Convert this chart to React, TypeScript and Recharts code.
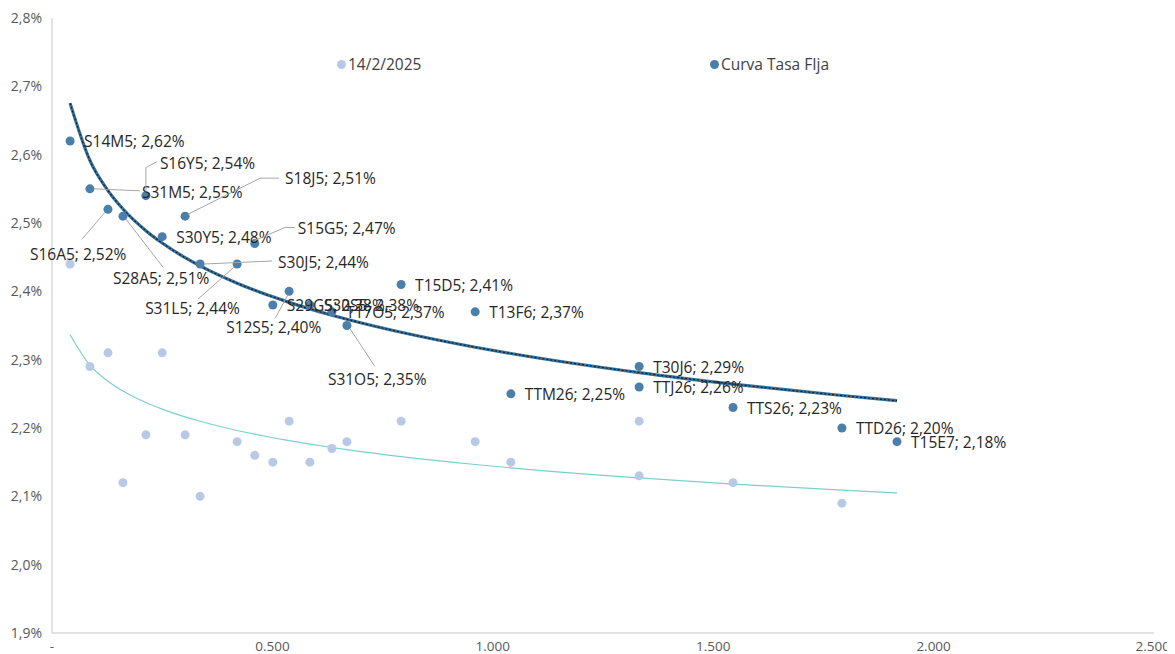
import React, { useLayoutEffect } from "react";
import { ComposedChart, Scatter, Line, XAxis, YAxis } from "recharts";

// ---- data ----
const BOND_NAMES = [
  "S14M5", "S31M5", "S16A5", "S28A5", "S16Y5", "S30Y5", "S18J5", "S30J5",
  "S31L5", "S15G5", "S29G5", "S12S5", "S30S5", "T17O5", "S31O5", "T15D5",
  "T13F6", "TTM26", "T30J6", "TTJ26", "TTS26", "TTD26", "T15E7",
];
const MATURITY_FIJA = [
  0.041, 0.086, 0.127, 0.161, 0.213, 0.25, 0.302, 0.336, 0.42, 0.46, 0.501,
  0.538, 0.585, 0.635, 0.669, 0.792, 0.96, 1.041, 1.332, 1.332, 1.545, 1.792,
  1.917,
];
const RATE_FIJA = [
  2.62, 2.55, 2.52, 2.51, 2.54, 2.48, 2.51, 2.44, 2.44, 2.47, 2.38, 2.4, 2.38,
  2.37, 2.35, 2.41, 2.37, 2.25, 2.29, 2.26, 2.23, 2.2, 2.18,
];
const MATURITY_PREV = [
  0.041, 0.086, 0.127, 0.161, 0.213, 0.25, 0.302, 0.336, 0.42, 0.46, 0.501,
  0.538, 0.585, 0.635, 0.669, 0.792, 0.96, 1.041, 1.332, 1.332, 1.545, 1.792,
];
const RATE_PREV = [
  2.44, 2.29, 2.31, 2.12, 2.19, 2.31, 2.19, 2.1, 2.18, 2.16, 2.15, 2.21, 2.15,
  2.17, 2.18, 2.21, 2.18, 2.15, 2.21, 2.13, 2.12, 2.09,
];
const SERIES_NAMES = ["14/2/2025", "Curva Tasa FIja"];
const X_TICKS = [0, 0.5, 1, 1.5, 2, 2.5];
const X_TICK_LABELS = ["-", "0.500", "1.000", "1.500", "2.000", "2.500"];
const Y_TICKS = [1.9, 2.0, 2.1, 2.2, 2.3, 2.4, 2.5, 2.6, 2.7, 2.8];
const Y_TICK_LABELS = ["1,9%", "2,0%", "2,1%", "2,2%", "2,3%", "2,4%", "2,5%", "2,6%", "2,7%", "2,8%"];

// ---- derived tables ----
const fijaData = BOND_NAMES.map((name, i) => ({ name, x: MATURITY_FIJA[i], y: RATE_FIJA[i] }));
const prevData = MATURITY_PREV.map((x, i) => ({ x, y: RATE_PREV[i] }));

function logFit(xs: number[], ys: number[]) {
  const n = xs.length;
  const lx = xs.map((v) => Math.log(v));
  const mx = lx.reduce((a, b) => a + b, 0) / n;
  const my = ys.reduce((a, b) => a + b, 0) / n;
  let sxy = 0;
  let sxx = 0;
  for (let i = 0; i < n; i++) {
    sxy += (lx[i] - mx) * (ys[i] - my);
    sxx += (lx[i] - mx) * (lx[i] - mx);
  }
  const b = sxy / sxx;
  const a = my - b * mx;
  return (x: number) => a + b * Math.log(x);
}
const trendXs = Array.from(new Set(MATURITY_FIJA)).sort((a, b) => a - b);
const fitFija = logFit(MATURITY_FIJA, RATE_FIJA);
const fitPrev = logFit(MATURITY_PREV, RATE_PREV);
const trendFija = trendXs.map((x) => ({ x, y: fitFija(x) }));
const trendPrev = trendXs.map((x) => ({ x, y: fitPrev(x) }));

// ---- styling ----
const FONT = "'Open Sans', 'Noto Sans', sans-serif";
const DARK = "#4b7fab";
const LIGHT = "#b8c9e6";
const LABEL_COLOR = "#262626";
const LEADER = "#a6a6a6";
const TICK_COLOR = "#595959";

type LabelCfg = { dx: number; dy: number; leader?: number[][] };
const DEFAULT_LABEL: LabelCfg = { dx: 14, dy: 0 };
const LABEL_LAYOUT: Record<string, LabelCfg> = {
  S31M5: { dx: 52, dy: 3, leader: [[4, 0], [50, 2]] },
  S16A5: { dx: -78, dy: 45, leader: [[-3, 3], [-26, 30]] },
  S28A5: { dx: -10, dy: 62, leader: [[3, 3], [40, 51]] },
  S16Y5: { dx: 14, dy: -33, leader: [[0, -4], [0, -28], [11, -34]] },
  S18J5: { dx: 100, dy: -38, leader: [[3, -2], [75, -38], [94, -38]] },
  S30J5: { dx: 78, dy: -2, leader: [[4, 0], [72, -3]] },
  S31L5: { dx: -92, dy: 44, leader: [[-3, 3], [-39, 35]] },
  S15G5: { dx: 43, dy: -16, leader: [[0, -3], [30, -16], [40, -16]] },
  S12S5: { dx: -63, dy: 36, leader: [[-1, 3], [-14, 27]] },
  S31O5: { dx: -19, dy: 53, leader: [[3, 3], [28, 41]] },
};

const Dot = (color: string) => (props: any) => {
  const { cx, cy } = props;
  if (cx == null || cy == null) return null;
  return <circle cx={cx} cy={cy} r={4.5} fill={color} />;
};

const LabelShape = (props: any) => {
  const { cx, cy, payload } = props;
  if (cx == null || cy == null || !payload) return null;
  const cfg = LABEL_LAYOUT[payload.name] ?? DEFAULT_LABEL;
  const text = `${payload.name}; ${payload.y.toFixed(2).replace(".", ",")}%`;
  return (
    <g>
      {cfg.leader && (
        <polyline
          points={cfg.leader.map(([a, b]) => `${cx + a},${cy + b}`).join(" ")}
          fill="none"
          stroke={LEADER}
          strokeWidth={1}
        />
      )}
      <text
        x={cx + cfg.dx}
        y={cy + cfg.dy}
        dominantBaseline="central"
        fontFamily={FONT}
        fontSize={15.5}
        fill={LABEL_COLOR}
      >
        {text}
      </text>
    </g>
  );
};

const XTick = (props: any) => {
  const { x, y, payload } = props;
  const i = X_TICKS.indexOf(payload.value);
  const label = i >= 0 ? X_TICK_LABELS[i] : "";
  const isLast = i === X_TICKS.length - 1;
  return (
    <text
      x={isLast ? x + 16 : x}
      y={y + 5}
      dominantBaseline="central"
      textAnchor={isLast ? "end" : "middle"}
      fontFamily={FONT}
      fontSize={13.5}
      fill={TICK_COLOR}
    >
      {label}
    </text>
  );
};

export default function App() {
  const W = 1167;
  const H = 646;
  useLayoutEffect(() => {
    document.documentElement.style.overflow = "hidden";
    document.body.style.overflow = "hidden";
  }, []);
  const legendStyle: React.CSSProperties = {
    position: "absolute",
    top: 45,
    display: "flex",
    alignItems: "center",
    fontSize: 15.5,
    color: "#404040",
    whiteSpace: "nowrap",
  };
  return (
    <div style={{ position: "relative", width: W, height: H, fontFamily: FONT }}>
      <style>{`.recharts-wrapper, .recharts-surface { overflow: visible !important; }`}</style>
      <ComposedChart
        width={W}
        height={H}
        margin={{ top: 10, right: 21, left: 0, bottom: 0 }}
      >
        <XAxis
          type="number"
          dataKey="x"
          domain={[0, 2.5]}
          ticks={X_TICKS}
          height={21}
          tickLine={false}
          axisLine={{ stroke: "#d9d9d9", strokeWidth: 1.5 }}
          tick={<XTick />}
          interval={0}
        />
        <YAxis
          type="number"
          dataKey="y"
          domain={[1.9, 2.8]}
          ticks={Y_TICKS}
          tickFormatter={(v: number) => {
            const i = Y_TICKS.findIndex((t) => Math.abs(t - v) < 1e-9);
            return i >= 0 ? Y_TICK_LABELS[i] : "";
          }}
          width={44}
          tickLine={false}
          tickMargin={4}
          axisLine={{ stroke: "#d9d9d9", strokeWidth: 1.5 }}
          tick={{ fill: TICK_COLOR, fontSize: 14, fontFamily: FONT }}
          interval={0}
        />
        <Scatter
          name={SERIES_NAMES[0]}
          data={prevData}
          dataKey="y"
          shape={Dot(LIGHT)}
          isAnimationActive={false}
        />
        <Scatter
          name={SERIES_NAMES[1]}
          data={fijaData}
          dataKey="y"
          shape={Dot(DARK)}
          isAnimationActive={false}
        />
        <Line
          data={trendPrev}
          dataKey="y"
          type="monotone"
          stroke="#7ccfd0"
          strokeWidth={1.2}
          dot={false}
          activeDot={false}
          isAnimationActive={false}
        />
        <Line
          data={trendFija}
          dataKey="y"
          type="monotone"
          stroke="#33709c"
          strokeWidth={3.2}
          dot={false}
          activeDot={false}
          isAnimationActive={false}
        />
        <Line
          data={trendFija}
          dataKey="y"
          type="monotone"
          stroke="#1b1b1b"
          strokeWidth={1.1}
          strokeDasharray="2 2"
          dot={false}
          activeDot={false}
          isAnimationActive={false}
        />
        <Scatter
          data={fijaData}
          dataKey="y"
          shape={LabelShape}
          isAnimationActive={false}
        />
      </ComposedChart>
      <div style={{ ...legendStyle, left: 329 }}>
        <span style={{ width: 9, height: 9, borderRadius: "50%", background: LIGHT, display: "inline-block", marginRight: 2 }} />
        <span>{SERIES_NAMES[0]}</span>
      </div>
      <div style={{ ...legendStyle, left: 702 }}>
        <span style={{ width: 9, height: 9, borderRadius: "50%", background: DARK, display: "inline-block", marginRight: 2 }} />
        <span>{SERIES_NAMES[1]}</span>
      </div>
    </div>
  );
}
